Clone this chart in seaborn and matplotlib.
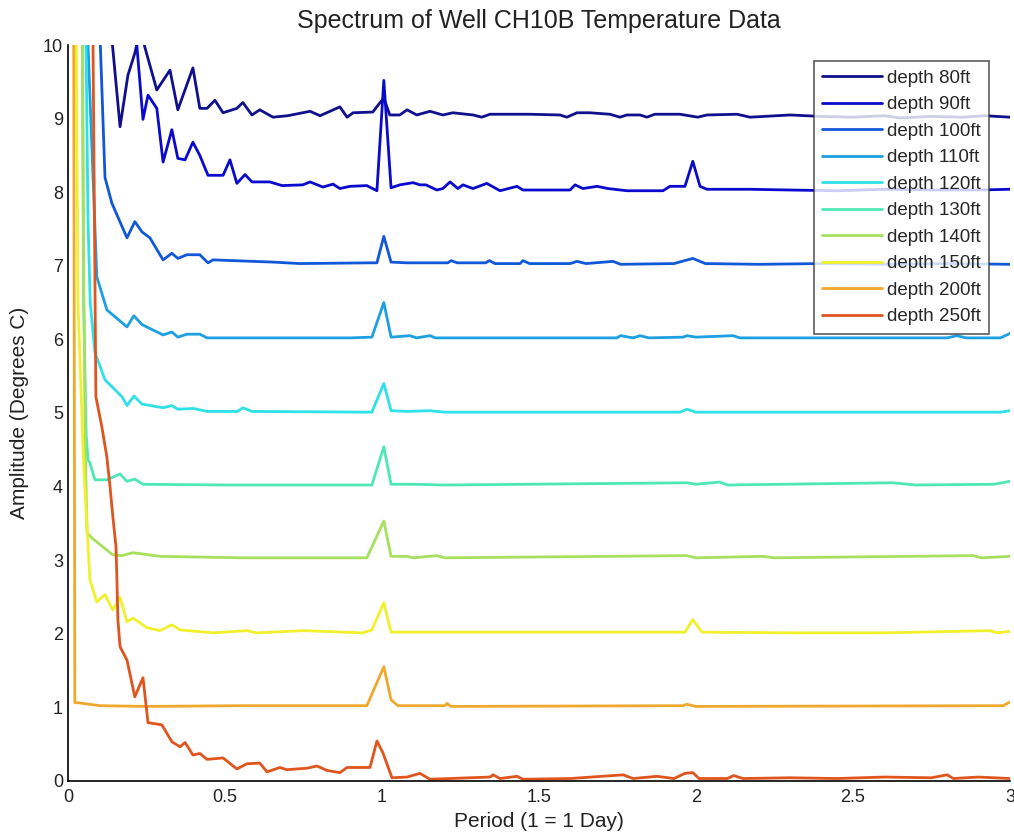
import pandas as pd
import matplotlib
matplotlib.use("Agg")
import matplotlib.pyplot as plt
import seaborn as sns

# period axis values (1 = 1 day) and amplitudes, one pair per depth
x_80 = [0.12, 0.166, 0.191, 0.213, 0.23, 0.283, 0.325, 0.350, 0.398, 0.420, 0.443, 0.468, 0.494,
        0.538, 0.557, 0.586, 0.611, 0.653, 0.700, 0.771, 0.803, 0.866, 0.889, 0.908, 0.971, 0.987,
        1.006, 1.025, 1.057, 1.080, 1.111, 1.153, 1.194, 1.226, 1.290, 1.318, 1.344, 1.471, 1.567,
        1.589, 1.621, 1.662, 1.726, 1.758, 1.780, 1.822, 1.844, 1.869, 1.949, 2.006, 2.035, 2.131,
        2.172, 2.30, 2.40, 2.50, 2.60, 2.65, 2.75, 2.85, 2.92, 3.00]
y_80 = [11.0, 8.89, 9.59, 9.89, 10.2, 9.39, 9.66, 9.12, 9.69, 9.14, 9.14, 9.25, 9.08,
        9.14, 9.22, 9.05, 9.12, 9.02, 9.04, 9.10, 9.04, 9.16, 9.02, 9.08, 9.09, 9.18,
        9.28, 9.05, 9.05, 9.12, 9.05, 9.10, 9.05, 9.08, 9.05, 9.02, 9.06, 9.06, 9.05,
        9.02, 9.08, 9.08, 9.06, 9.02, 9.05, 9.05, 9.02, 9.06, 9.06, 9.02, 9.05, 9.06,
        9.02, 9.05, 9.03, 9.02, 9.04, 9.01, 9.03, 9.02, 9.04, 9.02]

x_90 = [0.20, 0.239, 0.255, 0.283, 0.303, 0.331, 0.350, 0.373, 0.398, 0.420, 0.446, 0.494, 0.516,
        0.538, 0.564, 0.586, 0.643, 0.682, 0.748, 0.771, 0.812, 0.844, 0.866, 0.898, 0.952, 0.984,
        1.006, 1.029, 1.057, 1.099, 1.121, 1.140, 1.175, 1.194, 1.217, 1.242, 1.258, 1.290, 1.334,
        1.376, 1.430, 1.449, 1.599, 1.615, 1.640, 1.685, 1.720, 1.780, 1.895, 1.917, 1.965, 1.990,
        2.013, 2.035, 2.172, 2.30, 2.45, 2.60, 2.75, 2.90, 3.00]
y_90 = [11.0, 8.99, 9.32, 9.14, 8.41, 8.85, 8.46, 8.44, 8.68, 8.50, 8.23, 8.23, 8.44,
        8.12, 8.24, 8.14, 8.14, 8.09, 8.10, 8.14, 8.07, 8.11, 8.05, 8.08, 8.09, 8.02,
        9.52, 8.06, 8.10, 8.13, 8.10, 8.10, 8.03, 8.05, 8.14, 8.05, 8.10, 8.05, 8.12,
        8.02, 8.08, 8.03, 8.03, 8.10, 8.05, 8.08, 8.05, 8.02, 8.02, 8.08, 8.08, 8.42,
        8.08, 8.04, 8.04, 8.03, 8.02, 8.04, 8.03, 8.03, 8.04]

x_100 = [0.095, 0.118, 0.140, 0.188, 0.213, 0.236, 0.261, 0.303, 0.331, 0.350, 0.379, 0.420, 0.446,
         0.462, 0.653, 0.739, 0.962, 0.984, 1.006, 1.029, 1.080, 1.210, 1.220, 1.240, 1.330, 1.342,
         1.36, 1.44, 1.449, 1.47, 1.60, 1.621, 1.65, 1.736, 1.76, 1.93, 1.990, 2.03, 2.20, 2.40,
         2.60, 2.80, 3.00]
y_100 = [11.0, 8.20, 7.85, 7.38, 7.60, 7.46, 7.38, 7.08, 7.17, 7.10, 7.15, 7.15, 7.04,
         7.08, 7.05, 7.03, 7.04, 7.04, 7.40, 7.05, 7.04, 7.04, 7.07, 7.04, 7.04, 7.07,
         7.03, 7.03, 7.07, 7.03, 7.03, 7.06, 7.03, 7.06, 7.02, 7.03, 7.10, 7.03, 7.02, 7.03,
         7.02, 7.03, 7.02]

x_110 = [0.055, 0.092, 0.124, 0.188, 0.210, 0.236, 0.303, 0.331, 0.350, 0.379, 0.420, 0.443, 0.90,
         0.968, 1.006, 1.029, 1.089, 1.11, 1.153, 1.17, 1.748, 1.76, 1.80, 1.822, 1.85, 1.96,
         1.971, 2.00, 2.118, 2.14, 2.80, 2.831, 2.86, 2.97, 3.00]
y_110 = [11.0, 6.85, 6.40, 6.17, 6.32, 6.20, 6.06, 6.10, 6.03, 6.07, 6.07, 6.02, 6.02,
         6.03, 6.50, 6.03, 6.05, 6.02, 6.05, 6.02, 6.02, 6.05, 6.02, 6.05, 6.02, 6.03,
         6.05, 6.03, 6.05, 6.02, 6.02, 6.05, 6.02, 6.02, 6.08]

x_120 = [0.055, 0.064, 0.071, 0.086, 0.118, 0.172, 0.188, 0.210, 0.236, 0.303, 0.331, 0.350, 0.40,
         0.443, 0.54, 0.557, 0.586, 0.968, 1.006, 1.029, 1.08, 1.153, 1.20, 1.95, 1.971, 2.00,
         2.97, 3.00]
y_120 = [11.0, 7.60, 6.50, 5.82, 5.45, 5.22, 5.10, 5.23, 5.12, 5.07, 5.10, 5.05, 5.06,
         5.02, 5.02, 5.07, 5.02, 5.01, 5.40, 5.03, 5.02, 5.03, 5.01, 5.01, 5.05, 5.01,
         5.01, 5.03]

x_130 = [0.045, 0.050, 0.058, 0.064, 0.070, 0.086, 0.124, 0.166, 0.188, 0.213, 0.239, 0.50, 0.968,
         1.006, 1.029, 1.10, 1.20, 1.971, 2.00, 2.076, 2.10, 2.627, 2.70, 2.95, 3.00]
y_130 = [11.0, 6.50, 4.70, 4.36, 4.32, 4.09, 4.09, 4.17, 4.07, 4.10, 4.03, 4.02, 4.02,
         4.54, 4.03, 4.03, 4.02, 4.05, 4.03, 4.06, 4.02, 4.05, 4.02, 4.03, 4.07]

x_140 = [0.045, 0.050, 0.055, 0.061, 0.076, 0.143, 0.172, 0.207, 0.293, 0.557, 0.952, 1.006, 1.029,
         1.08, 1.10, 1.175, 1.20, 1.971, 2.00, 2.213, 2.25, 2.882, 2.91, 3.00]
y_140 = [11.0, 7.00, 4.50, 3.37, 3.30, 3.07, 3.06, 3.10, 3.05, 3.03, 3.03, 3.53, 3.05,
         3.05, 3.03, 3.06, 3.03, 3.06, 3.03, 3.05, 3.03, 3.06, 3.03, 3.05]

x_150 = [0.025, 0.032, 0.050, 0.070, 0.092, 0.118, 0.143, 0.166, 0.188, 0.207, 0.252, 0.293, 0.331,
         0.357, 0.462, 0.570, 0.60, 0.75, 0.939, 0.968, 1.006, 1.029, 1.965, 1.990, 2.019, 2.30,
         2.60, 2.936, 2.96, 3.00]
y_150 = [11.0, 6.50, 4.30, 2.73, 2.43, 2.53, 2.32, 2.49, 2.16, 2.21, 2.08, 2.04, 2.12,
         2.05, 2.01, 2.04, 2.01, 2.04, 2.01, 2.05, 2.42, 2.02, 2.02, 2.19, 2.02, 2.01,
         2.01, 2.04, 2.01, 2.03]

x_200 = [0.018, 0.022, 0.032, 0.102, 0.25, 0.55, 0.952, 1.006, 1.029, 1.051, 1.20, 1.207, 1.22,
         1.959, 1.97, 2.00, 2.978, 3.00]
y_200 = [11.0, 1.06, 1.06, 1.02, 1.01, 1.02, 1.02, 1.55, 1.10, 1.02, 1.02, 1.05, 1.01,
         1.02, 1.04, 1.01, 1.02, 1.07]

x_250 = [0.078, 0.089, 0.108, 0.124, 0.134, 0.143, 0.153, 0.156, 0.159, 0.166, 0.188, 0.213, 0.239,
         0.255, 0.299, 0.331, 0.357, 0.373, 0.398, 0.420, 0.443, 0.494, 0.538, 0.570, 0.611, 0.634,
         0.675, 0.697, 0.761, 0.793, 0.825, 0.866, 0.889, 0.962, 0.984, 1.003, 1.032, 1.080, 1.121,
         1.153, 1.344, 1.354, 1.376, 1.430, 1.449, 1.60, 1.768, 1.80, 1.876, 1.93, 1.965, 1.99,
         2.01, 2.10, 2.12, 2.15, 2.30, 2.45, 2.60, 2.75, 2.80, 2.82, 2.90, 3.00]
y_250 = [11.0, 5.22, 4.81, 4.40, 4.00, 3.59, 3.18, 2.73, 2.19, 1.82, 1.64, 1.14, 1.40,
         0.79, 0.76, 0.53, 0.46, 0.52, 0.35, 0.37, 0.29, 0.31, 0.16, 0.23, 0.24, 0.12,
         0.18, 0.15, 0.17, 0.20, 0.14, 0.11, 0.18, 0.18, 0.54, 0.38, 0.04, 0.05, 0.10,
         0.02, 0.05, 0.08, 0.03, 0.06, 0.02, 0.03, 0.08, 0.03, 0.06, 0.03, 0.10, 0.11,
         0.03, 0.03, 0.07, 0.03, 0.04, 0.03, 0.05, 0.04, 0.08, 0.03, 0.05, 0.03]

depth_labels = ['depth 80ft', 'depth 90ft', 'depth 100ft', 'depth 110ft', 'depth 120ft',
                'depth 130ft', 'depth 140ft', 'depth 150ft', 'depth 200ft', 'depth 250ft']
depth_colors = ['#10108c', '#0a0acd', '#1058d8', '#1ca0e2', '#2ee0e8',
                '#4ee8b4', '#a6e05e', '#f0f02c', '#f0a82c', '#e0541e']

series = [(x_80, y_80), (x_90, y_90), (x_100, y_100), (x_110, y_110), (x_120, y_120),
          (x_130, y_130), (x_140, y_140), (x_150, y_150), (x_200, y_200), (x_250, y_250)]

frames = []
for label, (xs, ys) in zip(depth_labels, series):
    frames.append(pd.DataFrame({'Period': xs, 'Amplitude': ys, 'Depth': label}))
data = pd.concat(frames, ignore_index=True)

sns.set_style("white")
plt.rcParams['font.family'] = ['Liberation Sans', 'DejaVu Sans']

fig = plt.figure(figsize=(10.14, 8.35), dpi=100)
ax = fig.add_axes([0.067, 0.065, 0.929, 0.881])

sns.lineplot(data=data, x='Period', y='Amplitude', hue='Depth', hue_order=depth_labels,
             palette=depth_colors, sort=False, estimator=None, linewidth=2, ax=ax)

ax.set_xlim(0, 3)
ax.set_ylim(0, 10)
ax.set_xticks([0, 0.5, 1, 1.5, 2, 2.5, 3])
ax.set_xticklabels(['0', '0.5', '1', '1.5', '2', '2.5', '3'])
ax.set_yticks(range(0, 11))
ax.tick_params(direction='in', length=7, width=1, labelsize=13, colors='#222222')
ax.tick_params(axis='x', pad=6)
for side in ['top', 'right']:
    ax.spines[side].set_visible(False)
for side in ['left', 'bottom']:
    ax.spines[side].set_color('black')
    ax.spines[side].set_linewidth(1.2)

ax.set_xlabel('Period (1 = 1 Day)', fontsize=15, color='#222222', labelpad=4)
ax.set_ylabel('Amplitude (Degrees C)', fontsize=15, color='#222222', labelpad=10)
ax.set_title('Spectrum of Well CH10B Temperature Data', fontsize=18, color='#222222', pad=12)

handles, labels = ax.get_legend_handles_labels()
leg = ax.legend(handles, labels, loc='upper right', fontsize=13.5, frameon=True, fancybox=False,
                handlelength=3.2, handletextpad=0.25, labelspacing=0.5, borderpad=0.45,
                borderaxespad=0, bbox_to_anchor=(0.978, 0.978))
leg.get_frame().set_edgecolor('#333333')
leg.get_frame().set_linewidth(1.2)

fig.savefig('out.png', dpi=100)
